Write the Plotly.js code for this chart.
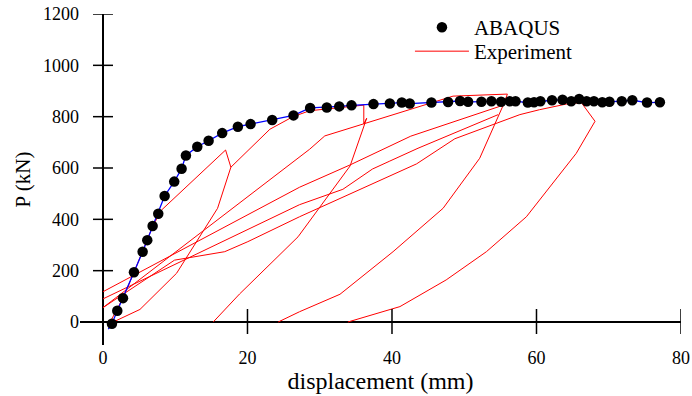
<!DOCTYPE html>
<html>
<head>
<meta charset="utf-8">
<script src="https://cdn.plot.ly/plotly-3.0.1.min.js"></script>
<style>html,body{margin:0;padding:0;background:#fff;}#chart{width:692px;height:396px;}</style>
</head>
<body>
<div id="chart"></div>
<script>
// ABAQUS simulation points (displacement mm, load kN)
const abaqusX = [1.24,1.98,2.77,4.29,5.49,6.13,6.87,7.65,8.53,9.86,10.88,11.48,13.05,14.62,16.5,18.67,20.43,23.42,26.37,28.67,30.98,32.7,34.4,37.44,39.7,41.36,42.46,45.46,47.76,49.42,50.53,52.38,53.76,55.1,56.3,57.1,58.8,59.66,60.54,62.15,63.6,64.8,65.9,66.94,67.95,69.1,70.1,71.8,73.26,75.3,77.08];
const abaqusY = [-7,44,93,194,274,319,374,422,491,547,597,649,683,706,736,761,771,787,805,834,836,840,844,849,851,855,851,855,857,861,858,858,860,858,860,860,855,856,860,864,866,860,869,860,860,856,858,860,864,855,856];
// start of the blue ABAQUS curve (below first point)
const curveStartX = [0.74];
const curveStartY = [-28];

// Experiment hysteresis branches (null separates branches)
const expX = [
  1.0,2.8,4.3,5.5,6.9,8.1,16.97,17.7,15.86,10.19,5.12,1.42, null,
  17.7,23.1,26.3,28.6,36.1,36.1,36.5,34.2,27.0,18.9,15.26, null,
  0,28.6,30.7,36.1,39.7,42.0,48.45,55.97,55.4,52.14,47.07,40.15,32.8,27.2,24.25, null,
  0,27.2,34.2,42.6,54.9, null,
  0,27.2,33.2,37.3,39.7,43.6,54.7, null,
  0,9.9,16.85,20.05,27.2,38.3,43.4,48.7,57.7,60.4,64.1,66.2,68.1,65.5,58.6,53.07,47.5,41.1,33.9
];
const expY = [
  0,95,194,274,374,436,670,603,443,190,49,0, null,
  603,751,800,823,845,772,794,608,332,109,0, null,
  56,673,725,772,806,826,880,888,845,638,443,274,108,40,0, null,
  118,525,612,724,840, null,
  90,457,517,596,627,677,808, null,
  56,241,274,313,410,550,616,714,808,827,849,855,782,657,410,274,164,60,0
];

const xTicks = [0,20,40,60,80];
const yTicks = [0,200,400,600,800,1000,1200];

const serif = 'Liberation Serif, Times New Roman, serif';

const traces = [
  {x: expX, y: expY, mode: 'lines', name: 'Experiment', connectgaps: false, legend: 'legend2',
   line: {color: '#ff0000', width: 1}},
  {x: curveStartX.concat(abaqusX), y: curveStartY.concat(abaqusY), mode: 'lines', showlegend: false,
   line: {color: '#0000ff', width: 1.3}, hoverinfo: 'skip'},
  {x: abaqusX, y: abaqusY, mode: 'markers', name: 'ABAQUS', legend: 'legend',
   marker: {color: '#000000', size: 10.5}}
];

const tickShapes = [];
xTicks.forEach(v => tickShapes.push({type: 'line', xref: 'x', yref: 'y', ysizemode: 'pixel', yanchor: 0,
  x0: v, x1: v, y0: -12, y1: 13, line: {color: '#000', width: 1.5}}));
yTicks.forEach(v => tickShapes.push({type: 'line', xref: 'x', yref: 'y', xsizemode: 'pixel', xanchor: 0,
  y0: v, y1: v, x0: -10, x1: 10, line: {color: '#000', width: 1.5}}));

const legendFont = {family: serif, size: 21, color: '#000'};

const layout = {
  width: 692, height: 396,
  margin: {l: 80, r: 11, t: 14, b: 51, pad: 0, autoexpand: false},
  paper_bgcolor: '#fff', plot_bgcolor: '#fff',
  showlegend: true,
  legend: {x: 0.549, y: 1.021, xanchor: 'left', yanchor: 'top', itemwidth: 54,
    font: legendFont, bgcolor: 'rgba(0,0,0,0)'},
  legend2: {x: 0.549, y: 0.9486, xanchor: 'left', yanchor: 'top', itemwidth: 54,
    font: legendFont, bgcolor: 'rgba(0,0,0,0)'},
  xaxis: {range: [-3.18, 80], tickvals: xTicks, ticks: '', showgrid: false, showline: false,
    zeroline: true, zerolinecolor: '#000', zerolinewidth: 1.5,
    tickfont: {family: serif, size: 18, color: '#000'},
    title: {text: 'displacement (mm)', font: {family: serif, size: 24, color: '#000'}, standoff: 3}},
  yaxis: {range: [-89.6, 1200], tickvals: yTicks, ticks: '', showgrid: false, showline: false,
    zeroline: true, zerolinecolor: '#000', zerolinewidth: 1.5,
    tickfont: {family: serif, size: 18, color: '#000'},
    title: {text: 'P (kN)', font: {family: serif, size: 21, color: '#000'}, standoff: 6}},
  shapes: tickShapes
};

Plotly.newPlot('chart', traces, layout, {staticPlot: true, displayModeBar: false});
</script>
</body>
</html>
